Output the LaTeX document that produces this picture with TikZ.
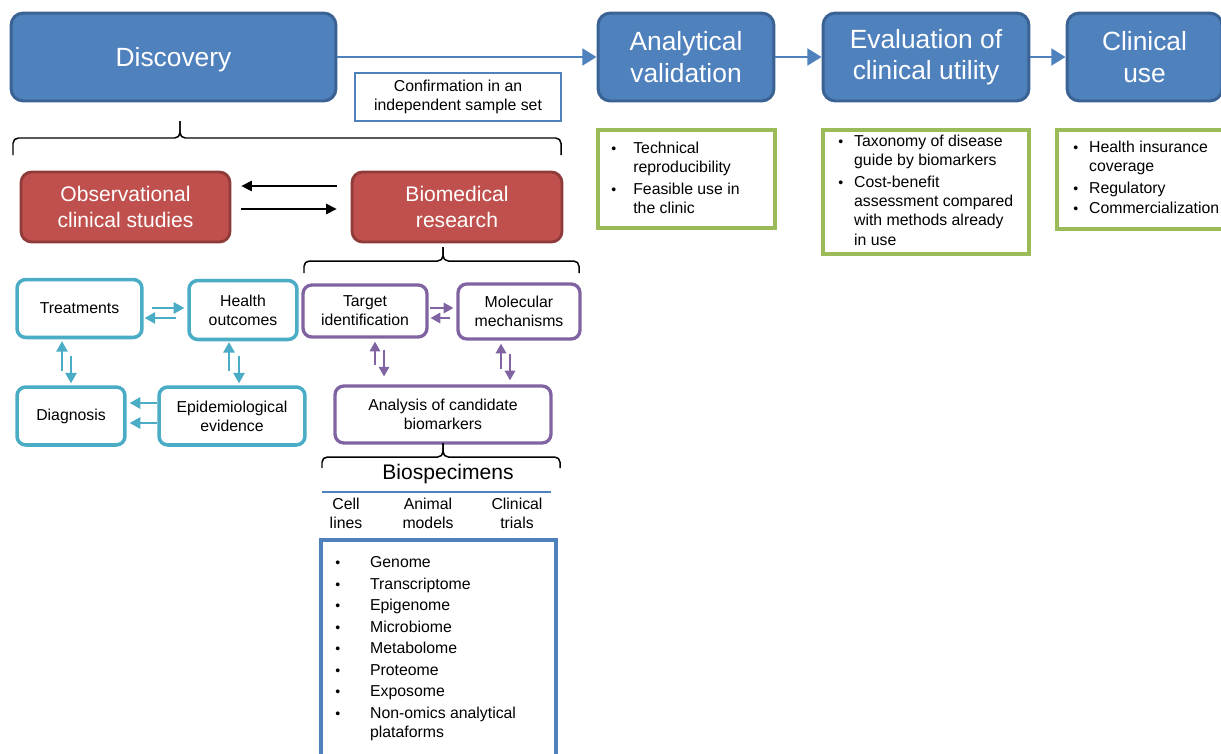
\documentclass[tikz,border=0pt]{standalone}
\usepackage{fontspec}
\setmainfont{Liberation Sans}
\usetikzlibrary{arrows.meta}

\definecolor{stageblue}{HTML}{4F81BD}
\definecolor{stageline}{HTML}{3A6394}
\definecolor{studyred}{HTML}{C0504D}
\definecolor{studyline}{HTML}{8E3B39}
\definecolor{clincyan}{HTML}{4BACC6}
\definecolor{respurple}{HTML}{8064A2}
\definecolor{notegreen}{HTML}{9BBB59}

\newcommand{\bul}{{\fontsize{8}{8}\selectfont\textbullet}}

\tikzset{
  stage/.style={rectangle, rounded corners=7pt, draw=stageline, fill=stageblue, line width=1.7pt,
    text=white, align=center, inner sep=0pt, font=\fontsize{15}{18}\selectfont},
  study/.style={rectangle, rounded corners=6pt, draw=studyline, fill=studyred, line width=1.6pt,
    text=white, align=center, inner sep=0pt, font=\fontsize{12}{14.3}\selectfont},
  clin/.style={rectangle, rounded corners=5pt, draw=clincyan, line width=2pt, fill=white,
    align=center, inner sep=0pt, font=\fontsize{9}{10.8}\selectfont},
  res/.style={rectangle, rounded corners=5pt, draw=respurple, line width=1.9pt, fill=white,
    align=center, inner sep=0pt, font=\fontsize{9}{10.8}\selectfont},
  note/.style={rectangle, draw=notegreen, line width=2pt, fill=white, inner sep=0pt},
  listtext/.style={anchor=base west, inner sep=0pt, font=\fontsize{9}{11}\selectfont},
  plain/.style={inner sep=0pt, align=center, font=\fontsize{9}{10.8}\selectfont},
  stagearr/.style={stageblue, line width=1.4pt, -{Triangle[length=8pt,width=9.5pt]}},
  studyarr/.style={black, line width=0.8pt, -{Triangle[length=6pt,width=6pt]}},
  clinarr/.style={clincyan, line width=0.9pt, -{Triangle[length=6pt,width=6.5pt]}},
  resarr/.style={respurple, line width=0.9pt, -{Triangle[length=5.5pt,width=6pt]}},
  bracket/.style={black, line width=0.85pt, rounded corners=3pt},
}

\begin{document}
\begin{tikzpicture}[x=0.02cm, y=-0.02cm]
\path[use as bounding box, clip] (0,0) rectangle (1221,754);

% stages
\node[stage, minimum width=6.5cm, minimum height=1.76cm, text depth=0pt] (disc) at (173.5,57) {Discovery};
\node[stage, minimum width=3.52cm, minimum height=1.76cm] (anval) at (686,57) {Analytical\\validation};
\node[stage, minimum width=4.12cm, minimum height=1.76cm] (evalu) at (926,57) {Evaluation of\\clinical utility};
\node[stage, minimum width=3.1cm, minimum height=1.76cm] (cluse) at (1144.5,57) {Clinical\\use};
\draw[stagearr] (disc.east) -- (anval.west);
\draw[stagearr] (anval.east) -- (evalu.west);
\draw[stagearr] (evalu.east) -- (cluse.west);

\node[plain, draw=stageblue, line width=1.6pt, minimum width=4.12cm, minimum height=0.96cm] (confirm) at (458,97) {Confirmation in an\\independent sample set};

% notes under the stages
\node[note, minimum width=3.54cm, minimum height=1.96cm] (noteA) at (686.5,179) {};
\node[listtext] (listA) at (611,153.5) {\begin{tabular}[t]{@{}p{12.5pt}@{}l@{}}
\bul & Technical\\ & reproducibility\\[1.2pt]
\bul & Feasible use in\\ & the clinic\end{tabular}};
\node[note, minimum width=4.12cm, minimum height=2.48cm] (noteE) at (926,192) {};
\node[listtext] (listE) at (838,146.5) {\begin{tabular}[t]{@{}p{9pt}@{}l@{}}
\bul & Taxonomy of disease\\ & guide by biomarkers\\[1.2pt]
\bul & Cost-benefit\\ & assessment compared\\ & with methods already\\ & in use\end{tabular}};
\node[note, minimum width=3.66cm, minimum height=1.98cm] (noteC) at (1148.5,179.5) {};
\node[listtext] (listC) at (1073,152.5) {\begin{tabular}[t]{@{}p{9pt}@{}l@{}}
\bul & Health insurance\\ & coverage\\[1.2pt]
\bul & Regulatory\\[0.6pt]
\bul & Commercialization\end{tabular}};

% brace under discovery
\draw[bracket] (13,155) -- (13,138) -- (180,138) -- (180,121);
\draw[bracket] (561,155) -- (561,138) -- (180,138) -- (180,121);

% studies
\node[study, minimum width=4.18cm, minimum height=1.4cm] (obs) at (125.5,207) {Observational\\clinical studies};
\node[study, minimum width=4.2cm, minimum height=1.4cm] (biomed) at (457,207) {Biomedical\\research};
\draw[studyarr, shorten <=8pt, shorten >=5.7pt] (biomed.west |- 0,186) -- (obs.east |- 0,186);
\draw[studyarr, shorten <=5.7pt, shorten >=8pt] (obs.east |- 0,209) -- (biomed.west |- 0,209);

% brace under biomedical research
\draw[bracket] (304,273) -- (304,261) -- (443,261) -- (443,247);
\draw[bracket] (579,273) -- (579,261) -- (443,261) -- (443,247);

% clinical side
\node[clin, minimum width=2.5cm, minimum height=1.16cm] (treat) at (79.5,308.5) {Treatments};
\node[clin, minimum width=2.16cm, minimum height=1.18cm] (health) at (243,310) {Health\\outcomes};
\node[clin, minimum width=2.16cm, minimum height=1.16cm] (diag) at (71,416) {Diagnosis};
\node[clin, minimum width=2.92cm, minimum height=1.16cm] (epi) at (232,416) {Epidemiological\\evidence};
\draw[clinarr, shorten <=4.5pt, shorten >=1.7pt] (treat.east |- 0,308) -- (health.west |- 0,308);
\draw[clinarr, shorten <=6.2pt, shorten >=0.5pt] (health.west |- 0,318) -- (treat.east |- 0,318);
\draw[clinarr, shorten <=8pt, shorten >=1.1pt] (diag.north -| 62,0) -- (treat.south -| 62,0);
\draw[clinarr, shorten <=9.6pt, shorten >=1.1pt] (treat.south -| 71,0) -- (diag.north -| 71,0);
\draw[clinarr, shorten <=8pt, shorten >=0.5pt] (epi.north -| 229,0) -- (health.south -| 229,0);
\draw[clinarr, shorten <=8.5pt, shorten >=1.1pt] (health.south -| 239,0) -- (epi.north -| 239,0);
\draw[clinarr, shorten >=1.7pt] (epi.west |- 0,403) -- (diag.east |- 0,403);
\draw[clinarr, shorten >=1.7pt] (epi.west |- 0,423) -- (diag.east |- 0,423);

% research side
\node[res, minimum width=2.48cm, minimum height=1.04cm] (target) at (365,311) {Target\\identification};
\node[res, minimum width=2.44cm, minimum height=1.1cm] (molec) at (519,311.5) {Molecular\\mechanisms};
\node[res, minimum width=4.32cm, minimum height=1.14cm] (cand) at (443,414.5) {Analysis of candidate\\biomarkers};
\draw[resarr, shorten <=0.5pt, shorten >=1.7pt] (target.east |- 0,308) -- (molec.west |- 0,308);
\draw[resarr, shorten <=3.4pt, shorten >=1.1pt] (molec.west |- 0,318) -- (target.east |- 0,318);
\draw[resarr, shorten <=10.8pt, shorten >=1.7pt] (cand.north -| 375,0) -- (target.south -| 375,0);
\draw[resarr, shorten <=6.2pt, shorten >=4.5pt] (target.south -| 384,0) -- (cand.north -| 384,0);
\draw[resarr, shorten <=8.5pt, shorten >=1.7pt] (cand.north -| 501,0) -- (molec.south -| 501,0);
\draw[resarr, shorten <=7.4pt, shorten >=2.3pt] (molec.south -| 510,0) -- (cand.north -| 510,0);

% brace under candidate analysis
\draw[bracket] (322,468) -- (322,457) -- (443,457) -- (443,443);
\draw[bracket] (560,468) -- (560,457) -- (443,457) -- (443,443);

% biospecimens
\node[inner sep=0pt, font=\fontsize{12}{14}\selectfont] (biospec) at (448,474) {Biospecimens};
\draw[stageblue, line width=0.8pt] (322,492) -- (551,492);
\node[plain] (cells) at (346,513) {Cell\\lines};
\node[plain] (animal) at (428,513) {Animal\\models};
\node[plain] (trials) at (517,513) {Clinical\\trials};

\node[draw=stageblue, line width=2pt, minimum width=4.7cm, minimum height=5.2cm, inner sep=0pt] (omics) at (438.5,670) {};
\node[listtext, font=\fontsize{9}{12.25}\selectfont] (omicslist) at (335,567.5) {\begin{tabular}[t]{@{}p{19.8pt}@{}l@{}}
\bul & Genome\\
\bul & Transcriptome\\
\bul & Epigenome\\
\bul & Microbiome\\
\bul & Metabolome\\
\bul & Proteome\\
\bul & Exposome\\
\bul & Non-omics analytical\\[-1.4pt]
 & plataforms\end{tabular}};

\end{tikzpicture}
\end{document}
